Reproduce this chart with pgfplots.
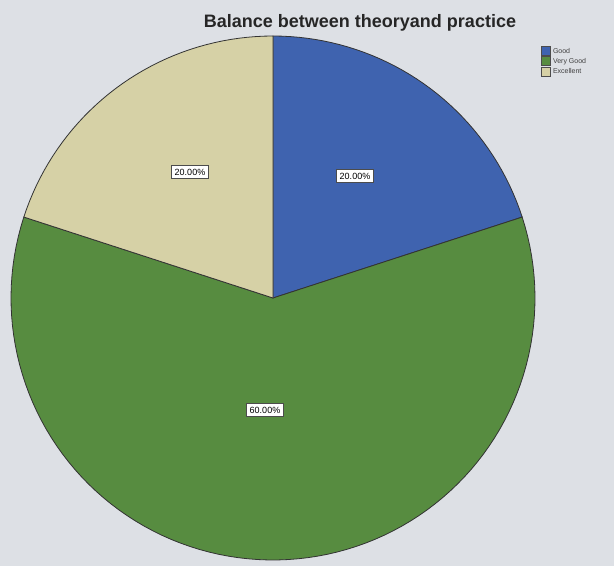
\documentclass[border=0pt]{standalone}
\usepackage{pgfplots}
\pgfplotsset{compat=1.18}
\usepackage{fontspec}
\setmainfont{Liberation Sans}
\definecolor{bg}{HTML}{DDE0E5}
\definecolor{cgood}{HTML}{3F63AF}
\definecolor{cvgood}{HTML}{578C40}
\definecolor{cexc}{HTML}{D6D1A6}
\begin{document}
\begin{tikzpicture}
\begin{axis}[x=1pt,y=1pt,xmin=0,xmax=614,ymin=0,ymax=566,
  hide axis, clip=true,
  legend style={at={(axis cs:541,520)},anchor=north west,draw=none,fill=none,
    font=\fontsize{7}{8}\selectfont,row sep=-0.5pt,inner sep=0pt,
    nodes={text=black!75}},
  legend cell align=left,
  legend image code/.code={\draw[#1,draw=black!70] (0pt,-4pt) rectangle (9pt,5pt);}]
% background
\addplot[fill=bg,draw=none,forget plot] coordinates {(0,0) (614,0) (614,566) (0,566)} -- cycle;
% pie: Good 20%, Very Good 60%, Excellent 20% (start at 90 deg, clockwise)
\addplot[fill=cgood,draw=black!80,line width=0.8pt,domain=18:90,samples=40,variable=\t]
  ({273+262*cos(\t)},{268+262*sin(\t)}) -- (axis cs:273,268) -- cycle;
\addlegendentry{Good}
\addplot[fill=cvgood,draw=black!80,line width=0.8pt,domain=-198:18,samples=100,variable=\t]
  ({273+262*cos(\t)},{268+262*sin(\t)}) -- (axis cs:273,268) -- cycle;
\addlegendentry{Very Good}
\addplot[fill=cexc,draw=black!80,line width=0.8pt,domain=-270:-198,samples=40,variable=\t]
  ({273+262*cos(\t)},{268+262*sin(\t)}) -- (axis cs:273,268) -- cycle;
\addlegendentry{Excellent}
% labels
\node[fill=white,draw=black!70,line width=1.2pt,inner sep=3pt,font=\fontsize{9}{10}\selectfont] at (axis cs:355,390) {20.00\%};
\node[fill=white,draw=black!70,line width=1.2pt,inner sep=3pt,font=\fontsize{9}{10}\selectfont] at (axis cs:190,394) {20.00\%};
\node[fill=white,draw=black!70,line width=1.2pt,inner sep=3pt,font=\fontsize{9}{10}\selectfont] at (axis cs:265,156) {60.00\%};
% title
\node[font=\bfseries\fontsize{18}{20}\selectfont,text=black!85] at (axis cs:360,543) {Balance between theoryand practice};
\end{axis}
\end{tikzpicture}
\end{document}
